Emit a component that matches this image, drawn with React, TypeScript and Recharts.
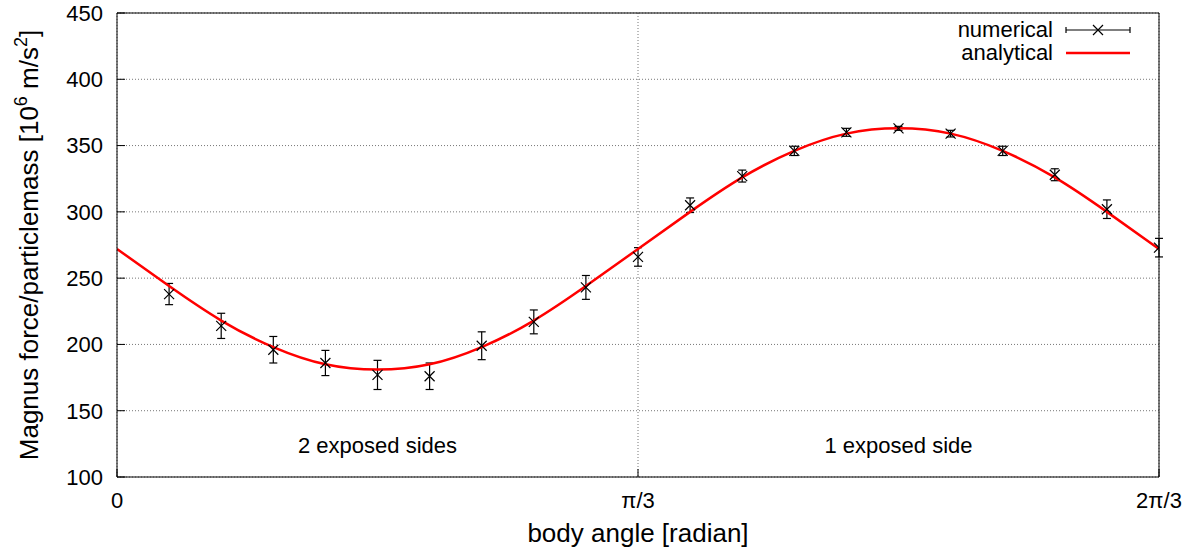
import React from 'react';
import {
  ComposedChart,
  Line,
  Scatter,
  ErrorBar,
  XAxis,
  YAxis,
  CartesianGrid,
  Legend,
  Label,
  ReferenceDot,
} from 'recharts';

// body angle in degrees (0 .. 120 = 2π/3)
const numericalAngle = [6, 12, 18, 24, 30, 36, 42, 48, 54, 60, 66, 72, 78, 84, 90, 96, 102, 108, 114, 120];
const numericalForce = [238, 214, 196, 186, 177, 176, 199, 217, 243, 266, 305, 327, 346, 360, 363, 359, 346, 328, 302, 273];
const numericalError = [8, 9.5, 10, 9.5, 11, 10, 10.5, 9, 9, 7, 5.5, 4.5, 3.5, 3, 1.5, 2.5, 3.5, 4.5, 7, 7];

const analyticalAngle = [0, 6, 12, 18, 24, 30, 36, 42, 48, 54, 60, 66, 72, 78, 84, 90, 96, 102, 108, 114, 120];
const analyticalForce = [272, 244, 218, 198, 185, 181, 185, 198, 218, 244, 272, 300, 326, 346, 359, 363, 359, 346, 326, 300, 272];

const xTicks = [0, 60, 120];
const xTickLabels = ['0', 'π/3', '2π/3'];
const yTicks = [100, 150, 200, 250, 300, 350, 400, 450];

const regionAngle = [30, 90];
const regionForce = [124, 124];
const regionText = ['2 exposed sides', '1 exposed side'];

const numericalData = numericalAngle.map((angle, i) => ({
  angle,
  force: numericalForce[i],
  err: numericalError[i],
}));
const analyticalData = analyticalAngle.map((angle, i) => ({ angle, force: analyticalForce[i] }));

const FONT = '"Liberation Sans", Arial, Helvetica, sans-serif';

const Cross = (props: any) => {
  const { cx, cy } = props;
  if (cx == null || cy == null) return <g />;
  const s = 5;
  return (
    <path
      d={`M${cx - s},${cy - s}L${cx + s},${cy + s}M${cx - s},${cy + s}L${cx + s},${cy - s}`}
      stroke="#000"
      strokeWidth={1.2}
      fill="none"
    />
  );
};

const YTitle = (props: any) => {
  const { viewBox } = props;
  const x = viewBox.x + 38;
  const cy = viewBox.y + viewBox.height / 2;
  return (
    <text
      x={x}
      y={cy}
      transform={`rotate(-90, ${x}, ${cy})`}
      textAnchor="middle"
      fontSize={26}
      fontFamily={FONT}
      fill="#000"
    >
      Magnus force/particlemass [10
      <tspan dy={-11} fontSize={18}>6</tspan>
      <tspan dy={11}> m/s</tspan>
      <tspan dy={-11} fontSize={18}>2</tspan>
      <tspan dy={11}>]</tspan>
    </text>
  );
};

const LegendBox = () => {
  const row: React.CSSProperties = {
    display: 'flex',
    alignItems: 'center',
    justifyContent: 'flex-end',
    height: 23,
  };
  const txt: React.CSSProperties = { fontSize: 22, fontFamily: FONT, color: '#000', marginRight: 12, lineHeight: '23px' };
  return (
    <div>
      <div style={row}>
        <span style={txt}>numerical</span>
        <svg width={66} height={20}>
          <line x1={1} y1={10} x2={65} y2={10} stroke="#000" strokeWidth={1.2} />
          <line x1={1} y1={7} x2={1} y2={13} stroke="#000" strokeWidth={1.2} />
          <line x1={65} y1={7} x2={65} y2={13} stroke="#000" strokeWidth={1.2} />
          <Cross cx={33} cy={10} />
        </svg>
      </div>
      <div style={row}>
        <span style={txt}>analytical</span>
        <svg width={66} height={20}>
          <line x1={1} y1={10} x2={65} y2={10} stroke="#ff0000" strokeWidth={2.5} />
        </svg>
      </div>
    </div>
  );
};

export default function App() {
  const tickStyle = { fontSize: 22, fontFamily: FONT, fill: '#000' };
  return (
    <div style={{ position: 'absolute', left: 0, top: 0, background: '#fff' }}>
      <ComposedChart width={1197} height={553} margin={{ top: 13, right: 38, left: 0, bottom: 0 }}>
        <CartesianGrid stroke="#777" strokeDasharray="1 2" strokeWidth={1} />
        <XAxis
          dataKey="angle"
          type="number"
          domain={[0, 120]}
          ticks={xTicks}
          tickFormatter={(v: number) => xTickLabels[xTicks.indexOf(v)] ?? ''}
          height={76}
          tickSize={-8}
          tickMargin={23}
          tick={tickStyle}
          stroke="#000"
          allowDataOverflow
        >
          <Label value="body angle [radian]" position="insideBottom" offset={11} fontSize={26} fontFamily={FONT} fill="#000" />
        </XAxis>
        <XAxis
          xAxisId="top"
          orientation="top"
          mirror
          type="number"
          domain={[0, 120]}
          ticks={xTicks}
          tick={false}
          tickSize={8}
          stroke="#000"
          allowDataOverflow
        />
        <YAxis
          type="number"
          domain={[100, 450]}
          ticks={yTicks}
          width={117}
          tickSize={-8}
          tickMargin={22}
          tick={tickStyle}
          stroke="#000"
          allowDataOverflow
        >
          <Label content={YTitle} />
        </YAxis>
        <YAxis
          yAxisId="right"
          orientation="right"
          mirror
          type="number"
          domain={[100, 450]}
          ticks={yTicks}
          tick={false}
          tickSize={8}
          stroke="#000"
          allowDataOverflow
        />
        <Scatter data={numericalData} dataKey="force" shape={Cross} isAnimationActive={false}>
          <ErrorBar dataKey="err" direction="y" width={4} stroke="#000" strokeWidth={1.2} isAnimationActive={false} />
        </Scatter>
        <Line
          data={analyticalData}
          dataKey="force"
          type="natural"
          stroke="#ff0000"
          strokeWidth={2.5}
          dot={false}
          activeDot={false}
          isAnimationActive={false}
        />
        {regionText.map((t, i) => (
          <ReferenceDot
            key={t}
            x={regionAngle[i]}
            y={regionForce[i]}
            r={0}
            stroke="none"
            fill="none"
            label={{ value: t, position: 'center', fontSize: 22, fontFamily: FONT, fill: '#000' }}
          />
        ))}
        <Legend
          layout="vertical"
          align="center"
          verticalAlign="middle"
          wrapperStyle={{ top: 18, right: 66, left: 'auto', width: 'auto', height: 'auto' }}
          content={LegendBox}
        />
      </ComposedChart>
    </div>
  );
}
